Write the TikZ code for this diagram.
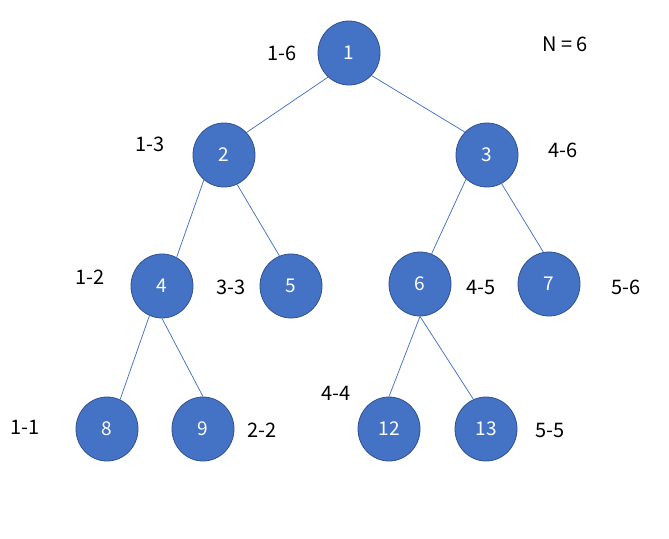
\documentclass[tikz,border=0pt]{standalone}
\usepackage{fontspec}
\setmainfont{Noto Sans CJK SC}
\usetikzlibrary{shapes.geometric}
\definecolor{nodefill}{HTML}{4472C4}
\definecolor{nodeborder}{HTML}{2F528F}
\tikzset{
  tnode/.style={ellipse, draw=nodeborder, line width=0.8pt, fill=nodefill, minimum width=62pt, minimum height=64pt, inner sep=0pt, text=white, font=\fontsize{19}{19}\selectfont},
  rng/.style={font=\fontsize{20}{20}\selectfont, text=black, inner sep=0pt},
  edge/.style={draw=nodefill, line width=0.75pt}
}
\begin{document}
\begin{tikzpicture}[x=1pt,y=-1pt]
\useasboundingbox (0,0) rectangle (669,538);
\node[tnode] (n1) at (349,53) {1};
\node[tnode] (n2) at (224,155) {2};
\node[tnode] (n3) at (487,155) {3};
\node[tnode] (n4) at (162,286) {4};
\node[tnode] (n5) at (291,286) {5};
\node[tnode] (n6) at (420,284) {6};
\node[tnode] (n7) at (549,284) {7};
\node[tnode] (n8) at (107,429) {8};
\node[tnode] (n9) at (203,429) {9};
\node[tnode] (n12) at (389,429) {12};
\node[tnode] (n13) at (486,429) {13};
\draw[edge] (n1.-131) -- (n2.45);
\draw[edge] (n1.-45) -- (n3.134);
\draw[edge] (n2.-129) -- (n4.63);
\draw[edge] (n2.-66) -- (n5.111);
\draw[edge] (n3.-131) -- (n6.69);
\draw[edge] (n3.-63) -- (n7.100);
\draw[edge] (n4.-113) -- (n8.66);
\draw[edge] (n4.-90) -- (n9.90);
\draw[edge] (n6.-90) -- (n12.90);
\draw[edge] (n6.-90) -- (n13.113);
\node[rng] (l1) at (282,53) {1-6};
\node[rng] (lN) at (565,44) {N = 6};
\node[rng] (l2) at (150,144) {1-3};
\node[rng] (l3) at (563,150) {4-6};
\node[rng] (l4) at (90,277) {1-2};
\node[rng] (l5) at (231,287) {3-3};
\node[rng] (l6) at (481,287) {4-5};
\node[rng] (l7) at (626,287) {5-6};
\node[rng] (l12) at (336,393) {4-4};
\node[rng] (l8) at (25,427) {1-1};
\node[rng] (l9) at (262,430) {2-2};
\node[rng] (l13) at (550,430) {5-5};
\end{tikzpicture}
\end{document}
